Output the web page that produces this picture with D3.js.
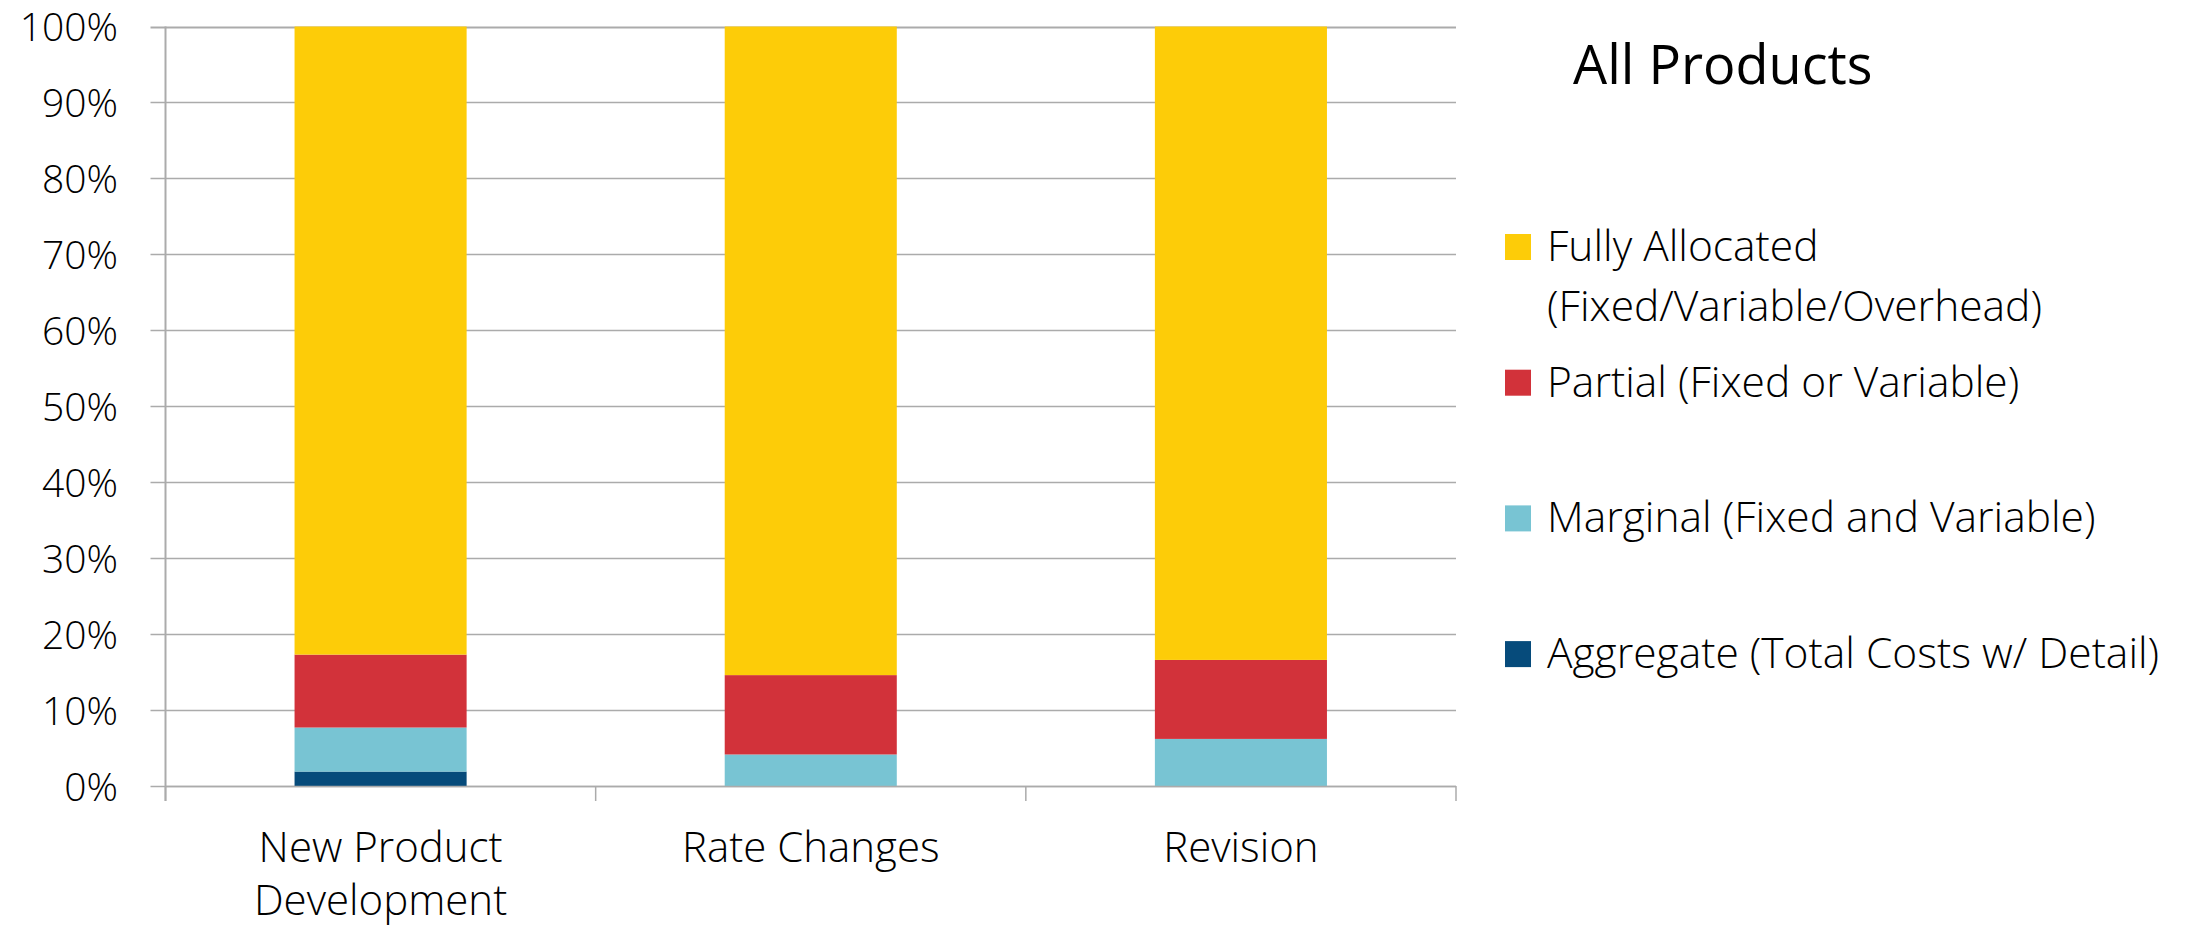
<!DOCTYPE html>
<html>
<head>
<meta charset="utf-8">
<script src="https://cdn.jsdelivr.net/npm/d3@7"></script>
<style>
  html, body { margin: 0; padding: 0; background: #fff; }
  svg { display: block; }
</style>
</head>
<body>
<svg id="chart" width="2201" height="928"></svg>
<script>
// ---- Data ----
const categories = ["New Product Development", "Rate Changes", "Revision"];
const categoryLines = [["New Product", "Development"], ["Rate Changes"], ["Revision"]];
const seriesKeys = ["Aggregate", "Marginal", "Partial", "Fully"];
const aggregateValues = [1.9, 0.0, 0.0];
const marginalValues  = [5.8, 4.15, 6.2];
const partialValues   = [9.6, 10.45, 10.4];
const fullyValues     = [82.7, 85.4, 83.4];
const yTicks = [0, 10, 20, 30, 40, 50, 60, 70, 80, 90, 100];
const titleText = "All Products";
const legendKeys = ["Fully", "Partial", "Marginal", "Aggregate"];
const legendLabels = [
  ["Fully Allocated", "(Fixed/Variable/Overhead)"],
  ["Partial (Fixed or Variable)"],
  ["Marginal (Fixed and Variable)"],
  ["Aggregate (Total Costs w/ Detail)"]
];
const colors = {
  Aggregate: "#064B7B",
  Marginal: "#78C4D3",
  Partial: "#D2323A",
  Fully: "#FDCC08"
};

// ---- Build table ----
const table = categories.map((c, i) => ({
  category: c,
  Aggregate: aggregateValues[i],
  Marginal: marginalValues[i],
  Partial: partialValues[i],
  Fully: fullyValues[i]
}));

const svg = d3.select("#chart");
const plot = { left: 165.5, right: 1456, top: 26.5, bottom: 786 };

const x = d3.scaleBand().domain(categories).range([plot.left, plot.right]).padding(0);
const y = d3.scaleLinear().domain([0, 100]).range([plot.bottom, plot.top]);
const barW = x.bandwidth() * 0.4;

const gridColor = "#ababab";

// gridlines with left tick
svg.append("g")
  .selectAll("line.grid")
  .data(yTicks)
  .join("line")
  .attr("x1", plot.left - 15)
  .attr("x2", plot.right)
  .attr("y1", d => Math.round(y(d)) + 0.5)
  .attr("y2", d => Math.round(y(d)) + 0.5)
  .attr("stroke", gridColor)
  .attr("stroke-width", d => d === 100 ? 2 : 1.3);

// bars
const stack = d3.stack().keys(seriesKeys);
const stacked = stack(table);
svg.append("g")
  .selectAll("g")
  .data(stacked)
  .join("g")
  .attr("fill", d => colors[d.key])
  .selectAll("rect")
  .data(d => d)
  .join("rect")
  .attr("x", d => x(d.data.category) + (x.bandwidth() - barW) / 2)
  .attr("width", barW)
  .attr("y", d => y(d[1]))
  .attr("height", d => Math.max(0, y(d[0]) - y(d[1])));

// left axis line
svg.append("line")
  .attr("x1", plot.left).attr("x2", plot.left)
  .attr("y1", plot.top).attr("y2", plot.bottom + 15)
  .attr("stroke", gridColor).attr("stroke-width", 2);

// baseline and category ticks
svg.append("line")
  .attr("x1", plot.left).attr("x2", plot.right)
  .attr("y1", plot.bottom + 0.5).attr("y2", plot.bottom + 0.5)
  .attr("stroke", gridColor).attr("stroke-width", 1.5);
const boundaries = categories.map(c => x(c)).concat([x(categories[categories.length - 1]) + x.bandwidth()]);
svg.append("g").selectAll("line")
  .data(boundaries)
  .join("line")
  .attr("x1", d => d).attr("x2", d => d)
  .attr("y1", plot.bottom).attr("y2", plot.bottom + 15)
  .attr("stroke", gridColor).attr("stroke-width", 1.5);

// y tick labels
const yAxis = d3.axisLeft(y).tickValues(yTicks).tickSize(0).tickFormat(d => d + "%");
const yg = svg.append("g").attr("transform", "translate(118,0)").call(yAxis);
yg.select(".domain").remove();
yg.selectAll("text")
  .attr("x", 0)
  .attr("dy", "0.37em")
  .attr("fill", "#000")
  .style("font-family", "'Open Sans', sans-serif")
  .style("font-weight", 300)
  .style("font-size", "39px");

// category labels
const catG = svg.append("g");
categories.forEach((c, i) => {
  const t = catG.append("text")
    .attr("x", x(c) + x.bandwidth() / 2)
    .attr("y", 862)
    .attr("text-anchor", "middle")
    .style("font-family", "'Open Sans', sans-serif")
    .style("font-weight", 300)
    .style("font-size", "42px")
    .attr("fill", "#000");
  categoryLines[i].forEach((line, j) => {
    t.append("tspan")
      .attr("x", x(c) + x.bandwidth() / 2)
      .attr("dy", j === 0 ? 0 : 53)
      .text(line);
  });
});

// title
svg.append("text")
  .attr("x", 1573)
  .attr("y", 84)
  .style("font-family", "'Open Sans', sans-serif")
  .style("font-weight", 400)
  .style("font-size", "54px")
  .attr("fill", "#000")
  .text(titleText);

// legend
const legendTop = 261;
const legendStep = 135.7;
const lg = svg.append("g");
legendKeys.forEach((k, i) => {
  const by = legendTop + i * legendStep;
  lg.append("rect")
    .attr("x", 1505).attr("y", by - 27)
    .attr("width", 26).attr("height", 26)
    .attr("fill", colors[k]);
  const t = lg.append("text")
    .attr("x", 1547).attr("y", by)
    .style("font-family", "'Open Sans', sans-serif")
    .style("font-weight", 300)
    .style("font-size", "42.5px")
    .attr("fill", "#000");
  legendLabels[i].forEach((line, j) => {
    t.append("tspan").attr("x", 1547).attr("dy", j === 0 ? 0 : 60).text(line);
  });
});
</script>
</body>
</html>
